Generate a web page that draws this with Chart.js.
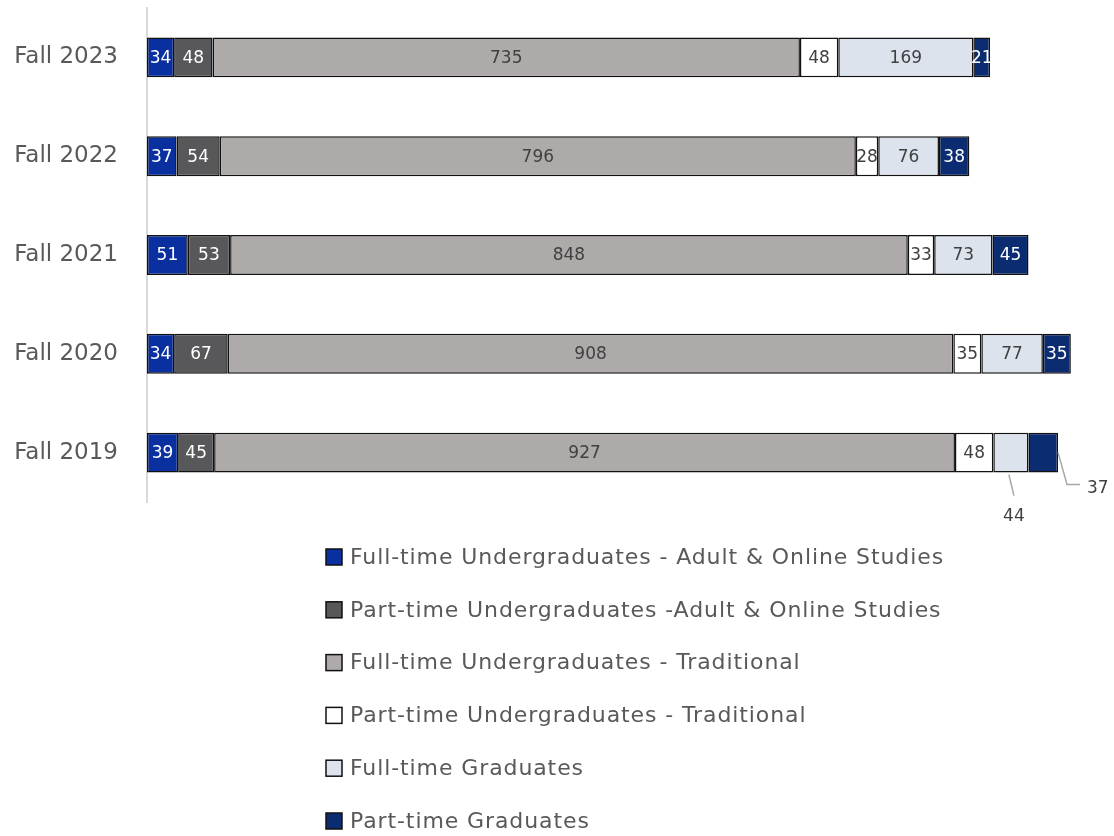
<!DOCTYPE html>
<html>
<head>
<meta charset="utf-8">
<script src="https://cdn.jsdelivr.net/npm/chart.js@4.4.1/dist/chart.umd.min.js"></script>
<style>
  html, body { margin: 0; padding: 0; background: #fff; }
  #wrap { width: 1114px; height: 836px; position: relative; }
</style>
</head>
<body>
<div id="wrap"><canvas id="enrollment"></canvas></div>
<script>
/* globals Chart:false */

// Headcount by term, one array per student group
const terms = ['Fall 2023', 'Fall 2022', 'Fall 2021', 'Fall 2020', 'Fall 2019']
const ftUgAdult = [34, 37, 51, 34, 39]
const ptUgAdult = [48, 54, 53, 67, 45]
const ftUgTrad = [735, 796, 848, 908, 927]
const ptUgTrad = [48, 28, 33, 35, 48]
const ftGrad = [169, 76, 73, 77, 44]
const ptGrad = [21, 38, 45, 35, 37]

const groupNames = [
  'Full-time Undergraduates - Adult & Online Studies',
  'Part-time Undergraduates -Adult & Online Studies',
  'Full-time Undergraduates - Traditional',
  'Part-time Undergraduates - Traditional',
  'Full-time Graduates',
  'Part-time Graduates'
]

const FONT = '"DejaVu Sans", "Open Sans", sans-serif'
const GREY = '#595959'

const makeSet = (label, data, fill, textColor, callout) => ({
  label,
  data,
  backgroundColor: fill,
  borderColor: '#111',
  borderWidth: 1.5,
  borderSkipped: false,
  textColor,
  callout: callout || []
})

// small values whose labels sit outside the bar
const datasets = [
  makeSet(groupNames[0], ftUgAdult, '#0a2f9f', '#ffffff'),
  makeSet(groupNames[1], ptUgAdult, '#58585b', '#ffffff'),
  makeSet(groupNames[2], ftUgTrad, '#aeaaaa', '#404040'),
  makeSet(groupNames[3], ptUgTrad, '#ffffff', '#404040'),
  makeSet(groupNames[4], ftGrad, '#dce3ec', '#404040', [null, null, null, null, 'below']),
  makeSet(groupNames[5], ptGrad, '#0c2c72', '#ffffff', [null, null, null, null, 'right'])
]

const segmentLabels = {
  id: 'segmentLabels',
  afterDatasetsDraw(chart) {
    const ctx = chart.ctx
    ctx.save()
    ctx.font = '17px ' + FONT
    ctx.textBaseline = 'middle'
    chart.data.datasets.forEach((ds, i) => {
      const meta = chart.getDatasetMeta(i)
      meta.data.forEach((bar, j) => {
        const text = String(ds.data[j])
        const cx = (bar.x + bar.base) / 2
        const cy = bar.y
        const bottom = cy + bar.height / 2
        const where = ds.callout[j]
        ctx.strokeStyle = '#a6a6a6'
        ctx.lineWidth = 1.5
        if (where === 'below') {
          ctx.beginPath()
          ctx.moveTo(cx - 2, bottom + 2)
          ctx.lineTo(cx + 3, bottom + 23)
          ctx.stroke()
          ctx.fillStyle = '#404040'
          ctx.textAlign = 'center'
          ctx.fillText(text, cx + 3, bottom + 44)
        } else if (where === 'right') {
          ctx.beginPath()
          ctx.moveTo(bar.x, cy)
          ctx.lineTo(bar.x + 9, cy + 32)
          ctx.lineTo(bar.x + 22, cy + 32)
          ctx.stroke()
          ctx.fillStyle = '#404040'
          ctx.textAlign = 'left'
          ctx.fillText(text, bar.x + 29, cy + 36)
        } else {
          ctx.fillStyle = ds.textColor
          ctx.textAlign = 'center'
          ctx.fillText(text, cx, cy + 1)
        }
      })
    })
    ctx.restore()
  }
}

// one legend entry per row, under the plot
const columnLegend = {
  id: 'columnLegend',
  afterDraw(chart, args, opts) {
    const ctx = chart.ctx
    ctx.save()
    ctx.font = '22px ' + FONT
    ctx.letterSpacing = '0.9px'
    ctx.textBaseline = 'middle'
    ctx.textAlign = 'left'
    chart.data.datasets.forEach((ds, i) => {
      const y = chart.chartArea.bottom + opts.top + i * opts.step
      ctx.fillStyle = ds.backgroundColor
      ctx.fillRect(opts.x, y - 8, 16, 16)
      ctx.strokeStyle = '#111'
      ctx.lineWidth = 1.5
      ctx.strokeRect(opts.x, y - 8, 16, 16)
      ctx.fillStyle = GREY
      ctx.fillText(ds.label, opts.x + 24, y + 1)
    })
    ctx.restore()
  }
}

const canvas = document.getElementById('enrollment')
// eslint-disable-next-line no-unused-vars
const enrollmentChart = new Chart(canvas, {
  type: 'bar',
  data: {
    labels: terms,
    datasets
  },
  options: {
    indexAxis: 'y',
    responsive: true,
    maintainAspectRatio: false,
    animation: false,
    categoryPercentage: 1,
    barPercentage: 0.404,
    layout: {
      padding: { top: 8, right: 8, bottom: 334, left: 0 }
    },
    plugins: {
      legend: { display: false },
      tooltip: { enabled: false },
      columnLegend: { x: 326, top: 55, step: 52.8 }
    },
    scales: {
      x: {
        stacked: true,
        display: false,
        min: 0,
        max: 1200
      },
      y: {
        stacked: true,
        grid: { display: false, drawTicks: false },
        border: { display: true, color: '#d9d9d9', width: 2 },
        ticks: {
          color: GREY,
          padding: 29,
          font: { family: FONT, size: 23 }
        },
        afterFit(scale) {
          scale.width = 147
          scale.paddingTop = 0
          scale.paddingBottom = 0
        }
      }
    }
  },
  plugins: [segmentLabels, columnLegend]
})
</script>
</body>
</html>
